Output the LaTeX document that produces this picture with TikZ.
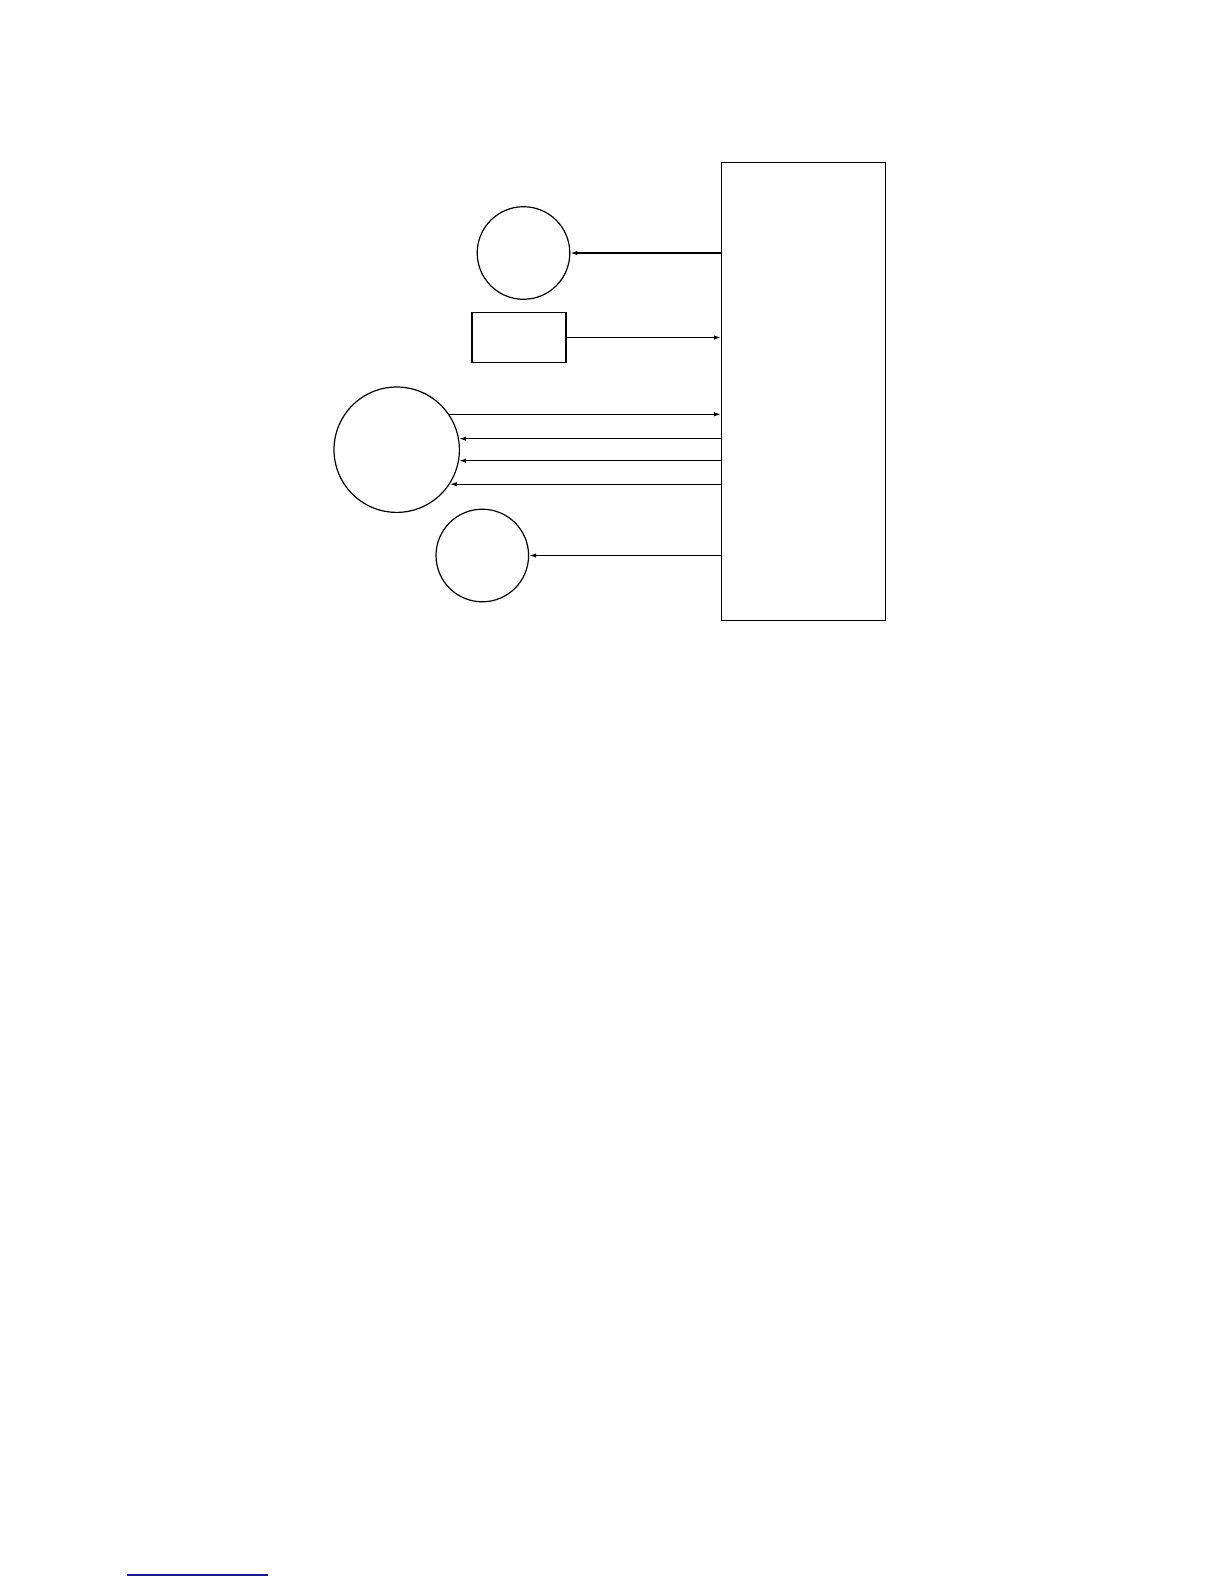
\documentclass[tikz,border=0pt]{standalone}
\usepackage{xcolor}
\usetikzlibrary{arrows.meta,positioning}
\definecolor{enlace}{RGB}{24,24,140}
\begin{document}
\begin{tikzpicture}[x=0.5pt,y=-0.5pt,
        every node/.style={draw, line width=0.6pt, inner sep=0pt},
        bola/.style={circle},
        caja/.style={rectangle},
        flecha/.style={-{Latex[length=3.5pt,width=2.2pt]}, line width=0.6pt}]
        \useasboundingbox (0,0) rectangle (1224,1584);

        % Bloque principal
        \node[caja, minimum width=81.9pt, minimum height=229pt] (bloque) at (803.4,391.8) {};

        % Elementos a la izquierda
        \node[bola, minimum size=46.3pt] (c1) at (523.5,253) {};
        \node[caja, minimum width=47pt, minimum height=25.2pt] (r1) at (519,337.5) {};
        \node[bola, minimum size=62.7pt] (c2) at (396.7,449.7) {};
        \node[bola, minimum size=46.3pt] (c3) at (482.3,555.5) {};

        % Conexiones con el bloque
        \draw[flecha] (bloque.west |- c1.east) -- (c1.east);
        \draw[flecha] (r1.east) -- (r1.east -| bloque.west);
        \draw[flecha] (c2.34.4) -- (c2.34.4 -| bloque.west);
        \foreach \a in {10.5,-10.7,-33.5}
            \draw[flecha] (c2.\a -| bloque.west) -- (c2.\a);
        \draw[flecha] (bloque.west |- c3.east) -- (c3.east);

        % Linea inferior
        \draw[enlace, line width=1pt] (127,1575) -- (268,1575);
\end{tikzpicture}
\end{document}
